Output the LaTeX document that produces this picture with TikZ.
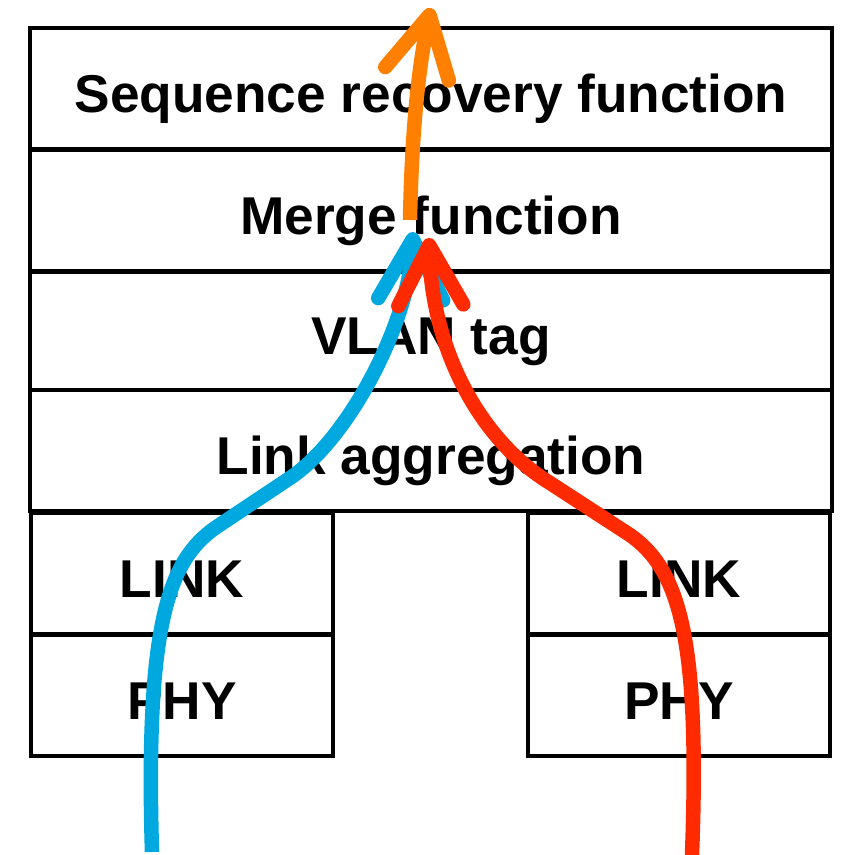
\documentclass[tikz,border=0pt]{standalone}
\usepackage{fontspec}
\setmainfont{Liberation Sans}
\usetikzlibrary{arrows.meta}
\definecolor{flowblue}{HTML}{00A8E0}
\definecolor{flowred}{HTML}{FF2A00}
\definecolor{floworange}{HTML}{FF8000}
\tikzset{ %inner sep = 0pt,
  {layer/.style} ={draw, line width=0.09cm, outer sep=0pt, inner sep=0pt,
                  minimum height=2.42cm, anchor=north,
                  text height=0.96cm, text depth=0pt,
                  font=\fontsize{30.3}{36}\selectfont\bfseries},
  {wide layer/.style} ={layer, minimum width=16.04cm},
  {port layer/.style} ={layer, minimum width=6.05cm},
  {flow/.style} ={line width=0.29cm, draw=#1,
                  -{Straight Barb[length=1.2cm, width=1.3cm, round]}},
 }

\begin{document}
\begin{tikzpicture}[x=0.02cm, y=-0.02cm]
    \useasboundingbox (0,0) rectangle (840,855);
    % protocol stack
    \node[wide layer] (seq) at (431,28) {Sequence recovery function};
    \node[wide layer] (merge) at (431,150) {Merge function};
    \node[wide layer, minimum height=2.36cm] (vlan) at (431,272) {VLAN tag};
    \node[wide layer] (lag) at (431,390) {Link aggregation};
    \node[port layer] (linkl) at (182,513) {LINK};
    \node[port layer] (phyl) at (182,635) {PHY};
    \node[port layer] (linkr) at (679,513) {LINK};
    \node[port layer] (phyr) at (679,635) {PHY};
    % free ends of the flows
    \coordinate (blue in) at (152,852);
    \coordinate (blue out) at (413,232);
    \coordinate (red in) at (692,855);
    \coordinate (red out) at (429,238);
    \coordinate (orange in) at (410,220);
    \coordinate (orange out) at (431,8);
    \draw[flow=flowblue] (blue in) .. controls (145,620) and (170,560) .. (215,528)
        -- (290,478) .. controls (350,438) and (410,320) .. (blue out);
    \draw[flow=flowred] (red in) .. controls (700,640) and (680,570) .. (630,535)
        -- (550,483) .. controls (480,440) and (432,350) .. (red out);
    \draw[flow=floworange] (orange in) .. controls (412,120) and (420,60) .. (orange out);
\end{tikzpicture}
\end{document}
